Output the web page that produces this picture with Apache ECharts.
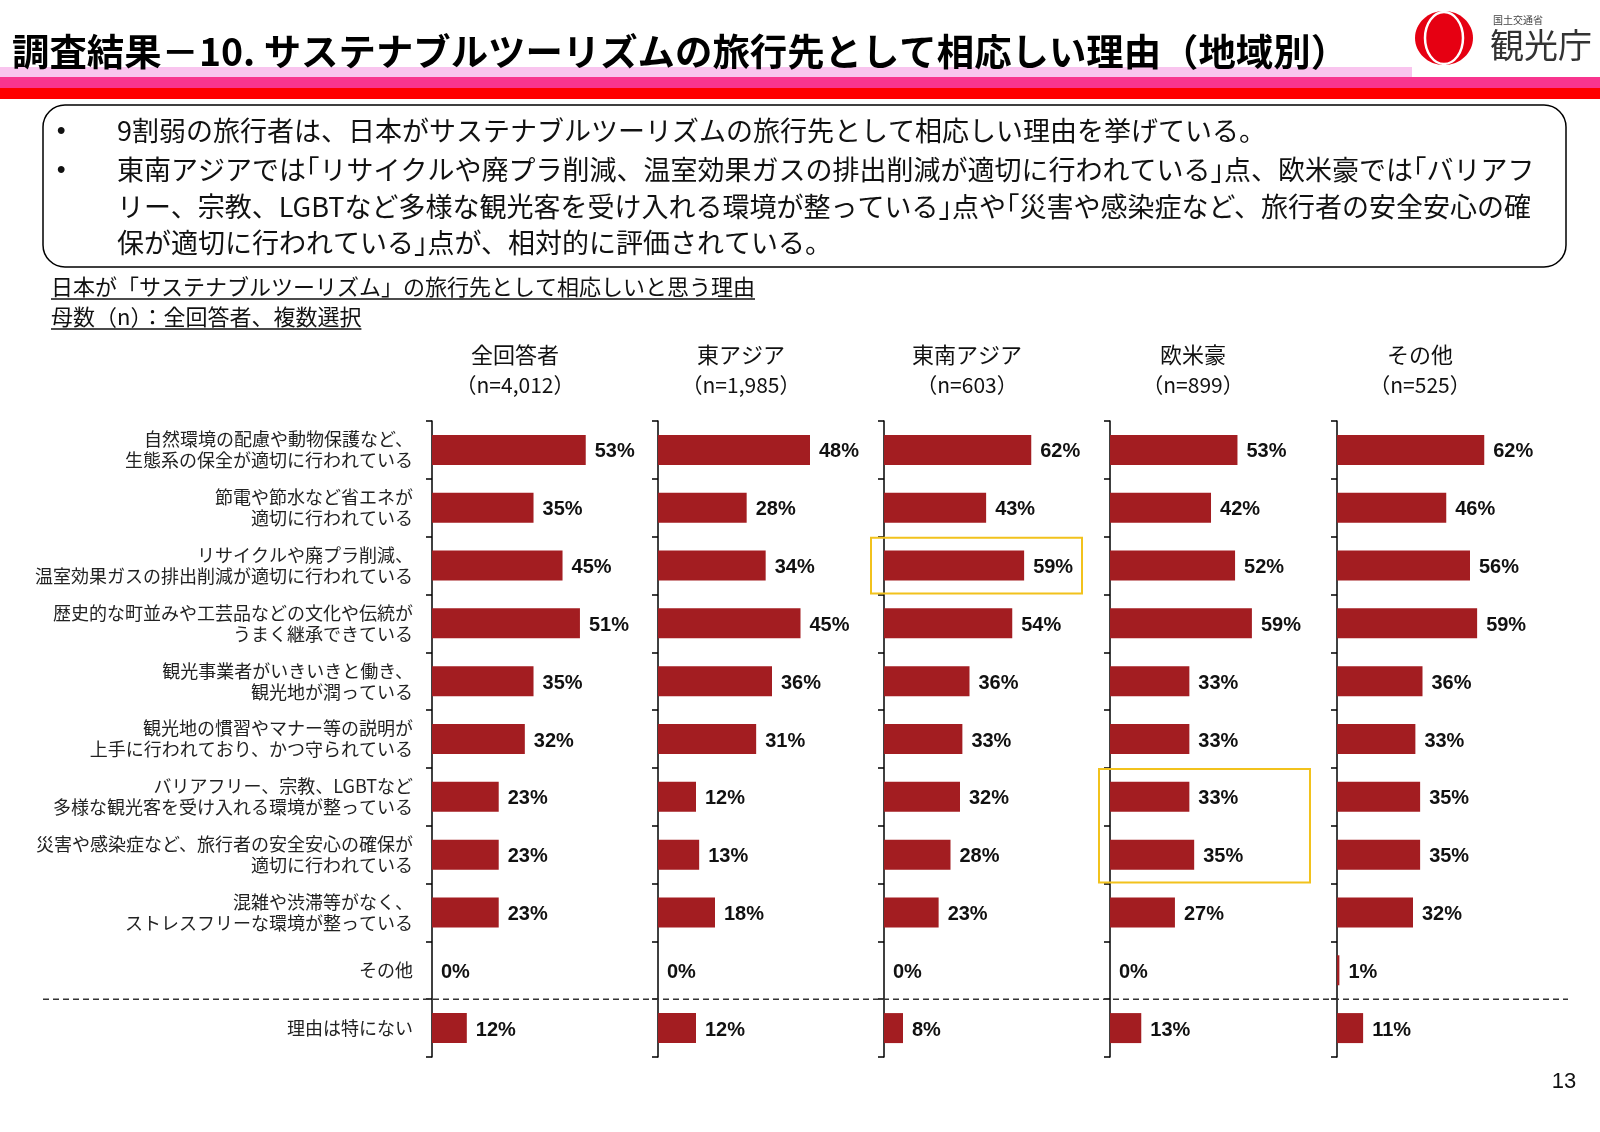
<!DOCTYPE html>
<html>
<head>
<meta charset="utf-8">
<script src="https://cdn.jsdelivr.net/npm/echarts@6/dist/echarts.min.js"></script>
<style>
html,body{margin:0;padding:0;background:#fff;}
#chart{width:1600px;height:1132px;}
</style>
</head>
<body>
<div id="chart"></div>
<script>
// ---------- DATA ----------
const categories = [
  '自然環境の配慮や動物保護など、\n生態系の保全が適切に行われている',
  '節電や節水など省エネが\n適切に行われている',
  'リサイクルや廃プラ削減、\n温室効果ガスの排出削減が適切に行われている',
  '歴史的な町並みや工芸品などの文化や伝統が\nうまく継承できている',
  '観光事業者がいきいきと働き、\n観光地が潤っている',
  '観光地の慣習やマナー等の説明が\n上手に行われており、かつ守られている',
  'バリアフリー、宗教、LGBTなど\n多様な観光客を受け入れる環境が整っている',
  '災害や感染症など、旅行者の安全安心の確保が\n適切に行われている',
  '混雑や渋滞等がなく、\nストレスフリーな環境が整っている',
  'その他',
  '理由は特にない'
];
const regionNames = ['全回答者', '東アジア', '東南アジア', '欧米豪', 'その他'];
const regionN = ['（n=4,012）', '（n=1,985）', '（n=603）', '（n=899）', '（n=525）'];
const valuesAll       = [53, 35, 45, 51, 35, 32, 23, 23, 23, 0, 12];
const valuesEastAsia  = [48, 28, 34, 45, 36, 31, 12, 13, 18, 0, 12];
const valuesSEAsia    = [62, 43, 59, 54, 36, 33, 32, 28, 23, 0, 8];
const valuesWestern   = [53, 42, 52, 59, 33, 33, 33, 35, 27, 0, 13];
const valuesOther     = [62, 46, 56, 59, 36, 33, 35, 35, 32, 1, 11];
const titleText = '調査結果－10. サステナブルツーリズムの旅行先として相応しい理由（地域別）';
const bulletLines = [
  '9割弱の旅行者は、日本がサステナブルツーリズムの旅行先として相応しい理由を挙げている。',
  '東南アジアでは｢リサイクルや廃プラ削減、温室効果ガスの排出削減が適切に行われている｣点、欧米豪では｢バリアフ',
  'リー、宗教、LGBTなど多様な観光客を受け入れる環境が整っている｣点や｢災害や感染症など、旅行者の安全安心の確',
  '保が適切に行われている｣点が、相対的に評価されている。'
];
const subtitle1 = '日本が「サステナブルツーリズム」の旅行先として相応しいと思う理由';
const subtitle2 = '母数（n）：全回答者、複数選択';
// ---------------------------

const seriesValues = [valuesAll, valuesEastAsia, valuesSEAsia, valuesWestern, valuesOther];
const axisMax = [65.5, 60, 80, 79, 80];

const JP = '"Noto Sans CJK JP", "Noto Sans", sans-serif';
const NUM = '"Liberation Sans", Arial, sans-serif';
const BAR = '#A31D21';

const gridTop = 421, gridH = 636, gridW = 190;
const axisX = [432, 658, 884, 1110, 1337];
const rowH = gridH / categories.length;

function textW(str, font) {
  const c = document.createElement('canvas').getContext('2d');
  c.font = font;
  return c.measureText(str).width;
}

const grids = [], xAxes = [], yAxes = [], series = [];
for (let i = 0; i < 5; i++) {
  grids.push({ left: axisX[i], top: gridTop, width: gridW, height: gridH, containLabel: false });
  xAxes.push({ type: 'value', gridIndex: i, min: 0, max: axisMax[i], show: false });
  yAxes.push({
    type: 'category', gridIndex: i, data: categories, inverse: true,
    axisLine: { show: true, lineStyle: { color: '#000', width: 1.5 } },
    axisTick: { show: true, inside: false, length: 6, lineStyle: { color: '#000', width: 1.5 } },
    axisLabel: {
      show: i === 0, margin: 19, fontSize: 18, lineHeight: 21, color: '#222',
      fontFamily: JP, align: 'right'
    }
  });
  series.push({
    type: 'bar', xAxisIndex: i, yAxisIndex: i, data: seriesValues[i],
    barWidth: 30, silent: true,
    itemStyle: { color: BAR },
    label: {
      show: true, position: 'right', distance: 9, formatter: '{c}%', offset: [0, 2],
      fontFamily: NUM, fontWeight: 'bold', fontSize: 20, color: '#111'
    }
  });
}

const graphics = [];
// header bands
graphics.push({ type: 'rect', shape: { x: 0, y: 67, width: 1412, height: 11 }, style: { fill: '#F9C4EE' }, z: 1 });
graphics.push({ type: 'rect', shape: { x: 0, y: 77, width: 1600, height: 11 }, style: { fill: '#F8358F' }, z: 1 });
graphics.push({ type: 'rect', shape: { x: 0, y: 88, width: 1600, height: 11 }, style: { fill: '#FF0000' }, z: 1 });
// title
graphics.push({ type: 'text', x: 12, y: 52, z: 5,
  style: { text: titleText, font: 'bold 37.4px ' + JP, fill: '#000', verticalAlign: 'middle' } });
// logo
graphics.push({ type: 'ellipse', shape: { cx: 1444, cy: 38, rx: 29, ry: 27 }, style: { fill: '#E60012' }, z: 5 });
graphics.push({ type: 'ellipse', shape: { cx: 1444, cy: 38, rx: 19, ry: 26 }, style: { fill: 'none', stroke: '#fff', lineWidth: 2.5 }, z: 6 });
graphics.push({ type: 'text', x: 1493, y: 20, z: 5, style: { text: '国土交通省', font: '10px ' + JP, fill: '#444', verticalAlign: 'middle' } });
graphics.push({ type: 'text', x: 1490, y: 45, z: 5, style: { text: '観光庁', font: '34px ' + JP, fill: '#333', verticalAlign: 'middle' } });
// summary box
graphics.push({ type: 'rect', shape: { x: 43, y: 105, width: 1523, height: 162, r: 22 },
  style: { fill: '#fff', stroke: '#000', lineWidth: 1.5 }, z: 2 });
const lineYs = [131, 170, 207, 243];
bulletLines.forEach((t, k) => {
  graphics.push({ type: 'text', x: 117, y: lineYs[k], z: 3,
    style: { text: t, font: '27px ' + JP, fill: '#111', verticalAlign: 'middle' } });
});
[0, 1].forEach(k => {
  graphics.push({ type: 'text', x: 57, y: lineYs[k], z: 3,
    style: { text: '•', font: 'bold 24px ' + NUM, fill: '#111', verticalAlign: 'middle' } });
});
// subtitles
const subFont = '22px ' + JP;
[[subtitle1, 287], [subtitle2, 317]].forEach(([t, y]) => {
  graphics.push({ type: 'text', x: 51, y: y, z: 3, style: { text: t, font: subFont, fill: '#111', verticalAlign: 'middle' } });
  const w = textW(t, subFont);
  graphics.push({ type: 'line', shape: { x1: 51, y1: y + 12, x2: 51 + w, y2: y + 12 }, style: { stroke: '#111', lineWidth: 1.5 }, z: 3 });
});
// panel headers
for (let i = 0; i < 5; i++) {
  graphics.push({ type: 'text', x: axisX[i] + 83, y: 355, z: 3,
    style: { text: regionNames[i], font: '22px ' + JP, fill: '#111', align: 'center', verticalAlign: 'middle' } });
  graphics.push({ type: 'text', x: axisX[i] + 83, y: 385, z: 3,
    style: { text: regionN[i], font: '21px ' + JP, fill: '#111', align: 'center', verticalAlign: 'middle' } });
}
// dashed separator
const sepY = gridTop + rowH * 10;
graphics.push({ type: 'line', shape: { x1: 43, y1: sepY, x2: 1568, y2: sepY },
  style: { stroke: '#333', lineWidth: 1.5, lineDash: [6, 4] }, z: 10 });
// highlight boxes
graphics.push({ type: 'rect', shape: { x: axisX[2] - 13, y: gridTop + rowH * 2 + 1, width: 211, height: rowH - 2 },
  style: { fill: 'none', stroke: '#F2C21C', lineWidth: 2 }, z: 10 });
graphics.push({ type: 'rect', shape: { x: axisX[3] - 11, y: gridTop + rowH * 6 + 1, width: 211, height: rowH * 2 - 2 },
  style: { fill: 'none', stroke: '#F2C21C', lineWidth: 2 }, z: 10 });
// page number
graphics.push({ type: 'text', x: 1564, y: 1082, z: 3,
  style: { text: '13', font: '22px ' + NUM, fill: '#111', align: 'center', verticalAlign: 'middle' } });

const chart = echarts.init(document.getElementById('chart'), null, { renderer: 'canvas' });
chart.setOption({
  animation: false,
  backgroundColor: '#fff',
  grid: grids,
  xAxis: xAxes,
  yAxis: yAxes,
  series: series,
  graphic: { elements: graphics }
});
</script>
</body>
</html>
